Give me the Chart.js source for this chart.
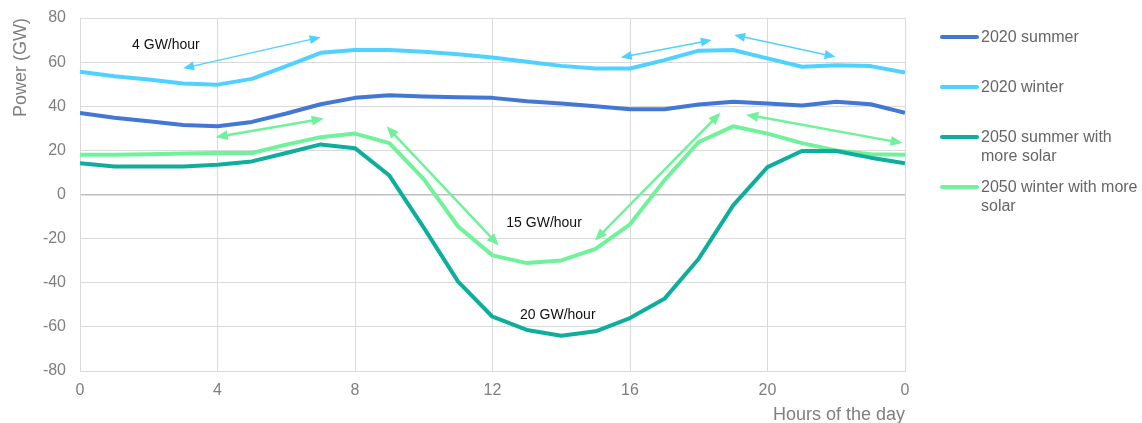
<!DOCTYPE html>
<html>
<head>
<meta charset="utf-8">
<script src="https://cdn.jsdelivr.net/npm/chart.js@4.4.0/dist/chart.umd.min.js"></script>
<style>
  html, body { margin: 0; padding: 0; background: #fff; }
  #wrap { position: relative; width: 1142px; height: 423px; overflow: hidden; }
  #c { position: absolute; left: 0; top: 0; }
  #legend { position: absolute; left: 940px; top: 0; font-family: "Liberation Sans", Arial, sans-serif; font-size: 16px; color: #666; }
  .item { position: absolute; left: 0; white-space: nowrap; line-height: 19px; }
  .sw { position: absolute; left: 0; width: 39px; height: 4px; border-radius: 2px; }
  .tx { position: absolute; left: 41px; }
</style>
</head>
<body>
<div id="wrap">
  <canvas id="c" width="1142" height="423"></canvas>
  <div id="legend"></div>
</div>
<script>
// ---- data ----
const hours = [0,1,2,3,4,5,6,7,8,9,10,11,12,13,14,15,16,17,18,19,20,21,22,23,24];
const xTickLabels = ['0','4','8','12','16','20','0'];
const seriesNames = ['2020 summer', '2020 winter', '2050 summer with more solar', '2050 winter with more solar'];
const summer2020 = [37,34.8,33.2,31.5,30.9,32.9,36.7,40.9,43.8,45,44.4,44.1,43.8,42.3,41.2,40,38.6,38.6,40.8,42,41.2,40.3,42,40.9,37];
const winter2020 = [55.6,53.6,52.1,50.3,49.8,52.4,58.2,64.2,65.5,65.5,64.7,63.6,62.1,60.2,58.3,57.1,57.1,60.9,65.2,65.5,61.7,57.9,58.6,58.2,55.3];
const summer2050 = [14.2,12.7,12.7,12.7,13.5,15,18.8,22.7,21,8.6,-15,-39.5,-55.4,-61.4,-64,-62,-56,-47.3,-29.1,-4.9,12.4,19.7,19.7,16.7,14.2];
const winter2050 = [18,18,18.3,18.6,18.8,18.8,22.6,26,27.6,23.3,7,-14.5,-27.6,-31.1,-29.9,-24.6,-13.5,6.4,23.8,30.9,27.6,23.3,20,18.2,18];

// ---- annotations (data units: hour, GW) ----
const annoTexts = [
  {text: '4 GW/hour', h: 2.5, v: 67.8},
  {text: '15 GW/hour', h: 13.5, v: -13.2},
  {text: '20 GW/hour', h: 13.9, v: -54.6}
];
const COL = ['#4377d6', '#4fd2ff', '#0fae9c', '#6ff29a'];
const annoArrows = [
  {a: [3.0, 57.2], b: [7.0, 71.3], c: COL[1], w: 1.5},
  {a: [15.73, 62.1], b: [18.38, 70], c: COL[1], w: 1.5},
  {a: [19.03, 72.3], b: [21.98, 62.4], c: COL[1], w: 1.5},
  {a: [3.95, 26], b: [7.09, 34.4], c: COL[3], w: 2.5},
  {a: [8.92, 30.9], b: [12.18, -23.1], c: COL[3], w: 2.5},
  {a: [14.98, -20.8], b: [18.63, 37], c: COL[3], w: 2.5},
  {a: [19.38, 36.2], b: [23.93, 23.3], c: COL[3], w: 2.5}
];

function pts(vals) { return hours.map((h, i) => ({x: h, y: vals[i]})); }
const allSeries = [summer2020, winter2020, summer2050, winter2050];

const FONT = "'Liberation Sans', Arial, sans-serif";

const annoPlugin = {
  id: 'anno',
  afterDatasetsDraw(chart) {
    const ctx = chart.ctx, xs = chart.scales.x, ys = chart.scales.y;
    ctx.save();
    annoArrows.forEach(ar => {
      const x1 = xs.getPixelForValue(ar.a[0]), y1 = ys.getPixelForValue(ar.a[1]);
      const x2 = xs.getPixelForValue(ar.b[0]), y2 = ys.getPixelForValue(ar.b[1]);
      const ang = Math.atan2(y2 - y1, x2 - x1);
      const hl = ar.w > 2 ? 12 : 11, hw = ar.w > 2 ? 5 : 4.5;
      ctx.strokeStyle = ar.c; ctx.fillStyle = ar.c; ctx.lineWidth = ar.w;
      ctx.beginPath();
      ctx.moveTo(x1 + Math.cos(ang) * hl * 0.8, y1 + Math.sin(ang) * hl * 0.8);
      ctx.lineTo(x2 - Math.cos(ang) * hl * 0.8, y2 - Math.sin(ang) * hl * 0.8);
      ctx.stroke();
      const head = (x, y, a) => {
        ctx.beginPath();
        ctx.moveTo(x, y);
        ctx.lineTo(x - Math.cos(a) * hl + Math.sin(a) * hw, y - Math.sin(a) * hl - Math.cos(a) * hw);
        ctx.lineTo(x - Math.cos(a) * hl - Math.sin(a) * hw, y - Math.sin(a) * hl + Math.cos(a) * hw);
        ctx.closePath(); ctx.fill();
      };
      head(x2, y2, ang);
      head(x1, y1, ang + Math.PI);
    });
    ctx.fillStyle = '#111';
    ctx.font = '14px ' + FONT;
    ctx.textAlign = 'center'; ctx.textBaseline = 'middle';
    annoTexts.forEach(t => ctx.fillText(t.text, xs.getPixelForValue(t.h), ys.getPixelForValue(t.v)));
    ctx.restore();
  }
};

new Chart(document.getElementById('c'), {
  type: 'line',
  data: {
    datasets: allSeries.map((s, i) => ({
      label: seriesNames[i],
      data: pts(s),
      borderColor: COL[i],
      backgroundColor: COL[i],
      borderWidth: 4,
      pointRadius: 0,
      tension: 0,
      borderJoinStyle: 'round',
      borderCapStyle: 'butt'
    }))
  },
  options: {
    responsive: false,
    animation: false,
    layout: {padding: {left: 6, right: 237, top: 18, bottom: 0}},
    plugins: {legend: {display: false}, tooltip: {enabled: false}},
    scales: {
      x: {
        type: 'linear', min: 0, max: 24,
        afterBuildTicks: (sc) => { sc.ticks = xTickLabels.map((l, i) => ({value: i * 4})); },
        ticks: {
          color: '#7f7f7f', font: {family: FONT, size: 16}, padding: 10,
          callback: (v, i) => xTickLabels[i]
        },
        grid: {color: '#d9d9d9', lineWidth: 1, drawTicks: false},
        border: {display: true, color: '#d9d9d9'},
        title: {display: true, text: 'Hours of the day', align: 'end', color: '#7f7f7f',
                font: {family: FONT, size: 18}, padding: {top: 4, bottom: -3}},
        afterFit: (sc) => { sc.height = 52; sc.paddingLeft = 0; sc.paddingRight = 0; }
      },
      y: {
        min: -80, max: 80,
        ticks: {stepSize: 20, color: '#7f7f7f', font: {family: FONT, size: 16}, padding: 14},
        grid: {
          color: (c) => (c.tick && c.tick.value === 0) ? '#bfbfbf' : '#d9d9d9',
          lineWidth: (c) => (c.tick && c.tick.value === 0) ? 1.5 : 1,
          drawTicks: false
        },
        border: {display: true, color: '#d9d9d9'},
        title: {display: true, text: 'Power (GW)', align: 'end', color: '#7f7f7f',
                font: {family: FONT, size: 18}, padding: {top: 4, bottom: 4}},
        afterFit: (sc) => { sc.width = 74; sc.paddingTop = 0; sc.paddingBottom = 0; }
      }
    }
  },
  plugins: [annoPlugin]
});

// ---- HTML legend (wrapped text) ----
const legendTops = [37, 87, 137, 187];
const legendLines = [['2020 summer'], ['2020 winter'], ['2050 summer with', 'more solar'], ['2050 winter with more', 'solar']];
const lg = document.getElementById('legend');
seriesNames.forEach((n, i) => {
  const it = document.createElement('div');
  it.className = 'item';
  it.style.top = (legendTops[i] - 10) + 'px';
  const sw = document.createElement('div');
  sw.className = 'sw'; sw.style.background = COL[i]; sw.style.top = '8px';
  const tx = document.createElement('div');
  tx.className = 'tx';
  tx.innerHTML = legendLines[i].join('<br>');
  it.appendChild(sw); it.appendChild(tx);
  lg.appendChild(it);
});
</script>
</body>
</html>
